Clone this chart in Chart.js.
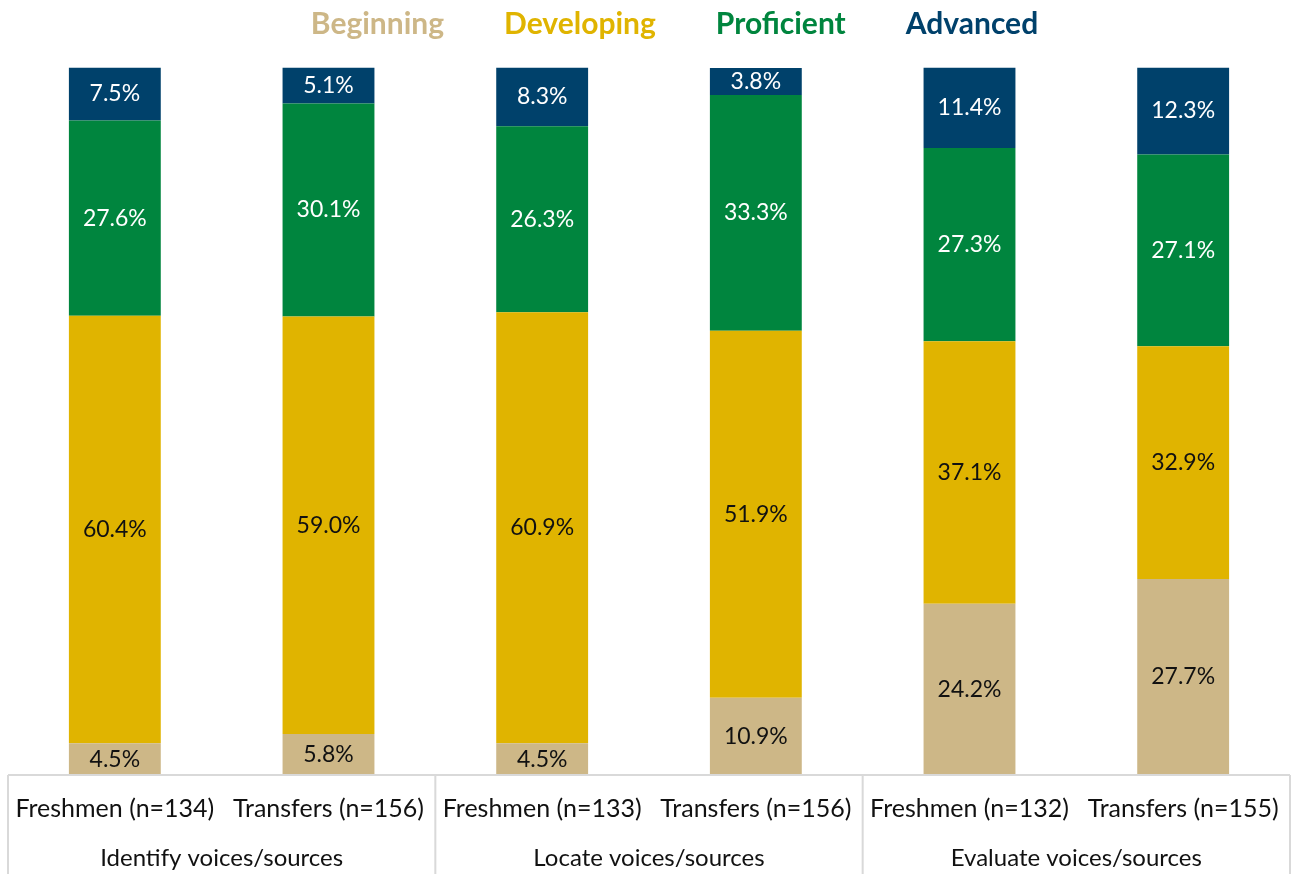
<!DOCTYPE html>
<html>
<head>
<meta charset="utf-8">
<title>Voices/sources rubric results</title>
<script src="https://cdn.jsdelivr.net/npm/chart.js@4.4.1/dist/chart.umd.min.js"></script>
<style>
  body { margin: 0; background: #ffffff; }
  #wrap { width: 1291px; height: 874px; }
</style>
</head>
<body>
<div id="wrap"><canvas id="rubricChart" width="1291" height="874"></canvas></div>
<script>
// bars, left to right
const subLabels = ["Freshmen (n=134)", "Transfers (n=156)", "Freshmen (n=133)", "Transfers (n=156)", "Freshmen (n=132)", "Transfers (n=155)"];
const groups = ["Identify voices/sources", "Locate voices/sources", "Evaluate voices/sources"];

const beginning  = [4.5, 5.8, 4.5, 10.9, 24.2, 27.7];
const developing = [60.4, 59.0, 60.9, 51.9, 37.1, 32.9];
const proficient = [27.6, 30.1, 26.3, 33.3, 27.3, 27.1];
const advanced   = [7.5, 5.1, 8.3, 3.8, 11.4, 12.3];

const levelNames  = ["Beginning", "Developing", "Proficient", "Advanced"];
const levelColors = ["#cdb787", "#e0b400", "#00853e", "#00416b"];
const labelColors = ["#111111", "#111111", "#ffffff", "#ffffff"];

const fontFamily = "Lato, 'Open Sans', sans-serif";

// value labels inside each segment
const segmentLabels = {
    id: "segmentLabels",
    afterDatasetsDraw(chart) {
        let ctx = chart.ctx;
        ctx.save();
        ctx.font = "23px " + fontFamily;
        ctx.textAlign = "center";
        ctx.textBaseline = "middle";
        chart.data.datasets.forEach((ds, i) => {
            let meta = chart.getDatasetMeta(i);
            meta.data.forEach((bar, j) => {
                let mid = (bar.y + bar.base) / 2;
                ctx.fillStyle = labelColors[i];
                ctx.fillText(ds.data[j].toFixed(1) + "%", bar.x, mid);
            });
        });
        ctx.restore();
    }
};

// table-like box under the bars plus group names
const groupAxis = {
    id: "groupAxis",
    afterDraw(chart) {
        let ctx = chart.ctx;
        let area = chart.chartArea;
        let x = chart.scales.x;
        let bottom = chart.height;
        ctx.save();
        ctx.strokeStyle = "#d9d9d9";
        ctx.lineWidth = 2;
        ctx.beginPath();
        ctx.moveTo(area.left, area.bottom);
        ctx.lineTo(area.right, area.bottom);
        let step = (area.right - area.left) / groups.length;
        for (let g = 0; g <= groups.length; g++) {
            let gx = area.left + step * g;
            ctx.moveTo(gx, area.bottom);
            ctx.lineTo(gx, bottom);
        }
        ctx.stroke();

        ctx.fillStyle = "#111111";
        ctx.font = "24px " + fontFamily;
        ctx.textAlign = "center";
        ctx.textBaseline = "middle";
        groups.forEach((name, g) => {
            let cx = (x.getPixelForValue(g * 2) + x.getPixelForValue(g * 2 + 1)) / 2;
            ctx.fillText(name, cx, 858);
        });
        ctx.restore();
    }
};

const datasets = [beginning, developing, proficient, advanced].map((vals, i) => ({
    label: levelNames[i],
    data: vals,
    backgroundColor: levelColors[i],
    borderWidth: 0,
    barPercentage: 0.86,
    categoryPercentage: 0.5
}));

new Chart(document.getElementById("rubricChart"), {
    type: "bar",
    data: { labels: subLabels, datasets: datasets },
    options: {
        responsive: false,
        animation: false,
        layout: { padding: { left: 8, right: 1, top: 0, bottom: 0 } },
        scales: {
            x: {
                stacked: true,
                grid: { display: false },
                border: { display: false },
                ticks: {
                    color: "#111111",
                    font: { family: fontFamily, size: 25 },
                    padding: 11,
                    maxRotation: 0,
                    autoSkip: false
                },
                afterFit(scale) {
                    scale.height = 99;
                    // labels fit in their slots, no extra side padding
                    scale.paddingLeft = 0;
                    scale.paddingRight = 0;
                }
            },
            y: {
                stacked: true,
                min: 0,
                max: 100,
                display: false
            }
        },
        plugins: {
            tooltip: { enabled: false },
            // empty spacer between legend and bars
            subtitle: {
                display: true,
                text: " ",
                position: "top",
                weight: 500,
                font: { size: 2 },
                padding: 8
            },
            legend: {
                position: "top",
                labels: {
                    boxWidth: 36,
                    boxHeight: 0,
                    padding: 9,
                    font: { family: fontFamily, size: 30, weight: "bold" },
                    generateLabels(chart) {
                        return chart.data.datasets.map((ds, i) => ({
                            text: ds.label,
                            fontColor: levelColors[i],
                            fillStyle: "rgba(0,0,0,0)",
                            strokeStyle: "rgba(0,0,0,0)",
                            lineWidth: 0,
                            datasetIndex: i
                        }));
                    }
                }
            }
        }
    },
    plugins: [segmentLabels, groupAxis]
});
</script>
</body>
</html>
